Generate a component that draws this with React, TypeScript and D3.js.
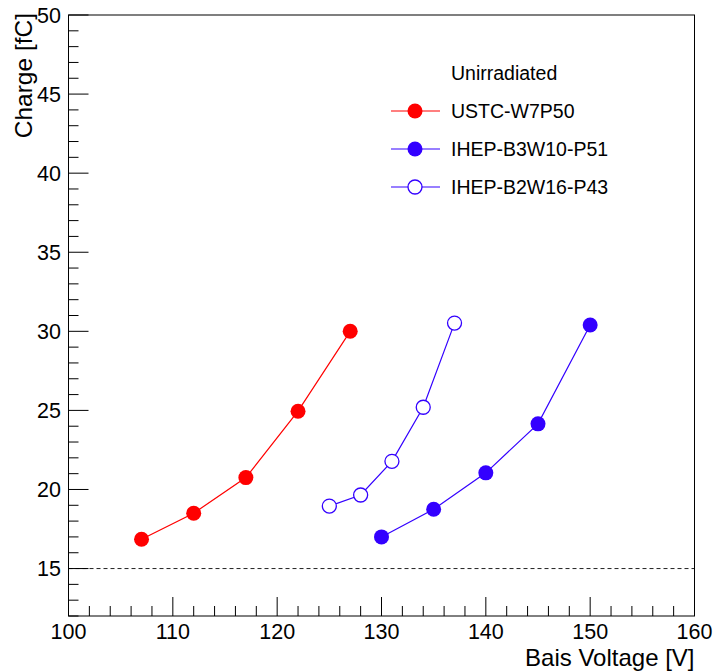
import React from "react";
import * as d3 from "d3";

const W = 715;
const H = 671;
const frame = { left: 68.5, right: 694.5, top: 15, bottom: 616 };

// data
const usctVolts = [107, 112, 117, 122, 127];
const usctCharge = [16.85, 18.5, 20.75, 24.95, 30.0];
const b3Volts = [130, 135, 140, 145, 150];
const b3Charge = [17.0, 18.75, 21.05, 24.15, 30.4];
const b2Volts = [125, 128, 131, 134, 137];
const b2Charge = [18.95, 19.65, 21.78, 25.2, 30.52];

const xMajor = [100, 110, 120, 130, 140, 150, 160];
const yMajor = [15, 20, 25, 30, 35, 40, 45, 50];

const RED = "#ff0000";
const BLUE = "#3300ff";
const FONT = "'Liberation Sans', Arial, Helvetica, sans-serif";

const series = [
  { name: "USTC-W7P50", xs: usctVolts, ys: usctCharge, color: RED, open: false },
  { name: "IHEP-B3W10-P51", xs: b3Volts, ys: b3Charge, color: BLUE, open: false },
  { name: "IHEP-B2W16-P43", xs: b2Volts, ys: b2Charge, color: BLUE, open: true },
];

const App = () => {
  const x = d3.scaleLinear().domain([100, 160]).range([frame.left, frame.right]);
  const y = d3.scaleLinear().domain([12, 50]).range([frame.bottom, frame.top]);
  const xMinor = d3.range(100, 160.01, 2).filter((v) => v % 10 !== 0);
  const yMinor = d3.range(12, 50.01, 1).filter((v) => v % 5 !== 0);
  const lineGen = d3.line<[number, number]>().x((d) => x(d[0])).y((d) => y(d[1]));

  return (
    <svg
      width={W}
      height={H}
      style={{ position: "absolute", left: 0, top: 0, background: "#fff" }}
      fontFamily={FONT}
    >
      <rect x={0} y={0} width={W} height={H} fill="#fff" />
      {/* dashed reference at 15 fC */}
      <line
        x1={frame.left}
        x2={frame.right}
        y1={y(15)}
        y2={y(15)}
        stroke="#222"
        strokeWidth={1}
        strokeDasharray="4,3"
      />
      {/* frame */}
      <rect
        x={frame.left}
        y={frame.top}
        width={frame.right - frame.left}
        height={frame.bottom - frame.top}
        fill="none"
        stroke="#000"
        strokeWidth={1}
      />
      {/* x ticks */}
      {xMajor.map((v) => (
        <g key={"xm" + v}>
          <line x1={x(v)} x2={x(v)} y1={frame.bottom} y2={frame.bottom - 19} stroke="#000" />
          <text x={x(v)} y={638.5} fontSize={21.5} textAnchor="middle" fill="#000">
            {v}
          </text>
        </g>
      ))}
      {xMinor.map((v) => (
        <line key={"xn" + v} x1={x(v)} x2={x(v)} y1={frame.bottom} y2={frame.bottom - 10} stroke="#000" />
      ))}
      {/* y ticks */}
      {yMajor.map((v) => (
        <g key={"ym" + v}>
          <line x1={frame.left} x2={frame.left + 20} y1={y(v)} y2={y(v)} stroke="#000" />
          <text x={61} y={y(v) + 7.5} fontSize={21.5} textAnchor="end" fill="#000">
            {v}
          </text>
        </g>
      ))}
      {yMinor.map((v) => (
        <line key={"yn" + v} x1={frame.left} x2={frame.left + 10} y1={y(v)} y2={y(v)} stroke="#000" />
      ))}
      {/* axis titles */}
      <text x={frame.right} y={665.5} fontSize={24} textAnchor="end" fill="#000">
        Bais Voltage [V]
      </text>
      <text
        transform={`translate(32, ${frame.top - 2}) rotate(-90)`}
        fontSize={24.5}
        textAnchor="end"
        fill="#000"
      >
        Charge [fC]
      </text>
      {/* series */}
      {series.map((s) => {
        const pts = s.xs.map((v, i) => [v, s.ys[i]] as [number, number]);
        return (
          <g key={s.name}>
            <path d={lineGen(pts) || ""} fill="none" stroke={s.color} strokeWidth={1.2} />
            {pts.map((p, i) =>
              s.open ? (
                <circle key={i} cx={x(p[0])} cy={y(p[1])} r={7} fill="#fff" stroke={s.color} strokeWidth={1.3} />
              ) : (
                <circle key={i} cx={x(p[0])} cy={y(p[1])} r={7.5} fill={s.color} />
              )
            )}
          </g>
        );
      })}
      {/* legend */}
      <text x={451} y={80} fontSize={19.5} fill="#000">
        Unirradiated
      </text>
      {series.map((s, i) => {
        const ly = 111 + i * 38;
        return (
          <g key={"lg" + s.name}>
            <line x1={391} x2={440} y1={ly} y2={ly} stroke={s.color} strokeWidth={1.2} />
            {s.open ? (
              <circle cx={415} cy={ly} r={7} fill="#fff" stroke={s.color} strokeWidth={1.3} />
            ) : (
              <circle cx={415} cy={ly} r={7.5} fill={s.color} />
            )}
            <text x={451} y={ly + 7} fontSize={19.5} fill="#000">
              {s.name}
            </text>
          </g>
        );
      })}
    </svg>
  );
};

export default App;
